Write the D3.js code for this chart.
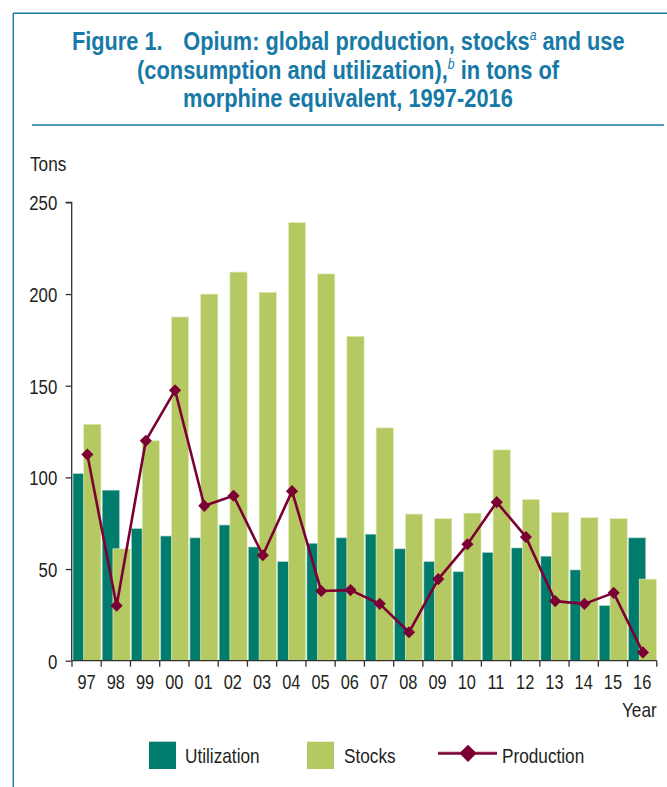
<!DOCTYPE html>
<html>
<head>
<meta charset="utf-8">
<script src="https://cdn.jsdelivr.net/npm/d3@7"></script>
<style>
  html, body { margin: 0; padding: 0; background: #fff; }
  svg { display: block; }
</style>
</head>
<body>
<script>
// ---- Data ----
const years = ["97","98","99","00","01","02","03","04","05","06","07","08","09","10","11","12","13","14","15","16"];
const utilization = [102, 93, 72, 68, 67, 74, 62, 54, 64, 67, 69, 61, 54, 48.5, 59, 61.5, 57, 49.5, 30, 67];
const stocks = [129, 61, 120, 187.5, 200, 212, 201, 239, 211, 177, 127, 80, 77.5, 80.5, 115, 88, 81, 78, 77.5, 44.5];
const production = [112.5, 30, 120, 147.5, 84.5, 90, 57.5, 92.5, 38, 38.5, 31, 15.5, 44.5, 63.5, 86.5, 67.5, 32.5, 31, 37, 4.5];
const yTicks = [0, 50, 100, 150, 200, 250];
const seriesNames = ["Utilization", "Stocks", "Production"];
const titleLines = [
  [{t:"Figure 1."}, {t:"Opium: global production, stocks", dx:24}, {t:"a", sup:true}, {t:" and use"}],
  [{t:"(consumption and utilization),"}, {t:"b", sup:true}, {t:" in tons of"}],
  [{t:"morphine equivalent, 1997-2016"}]
];

// ---- Style ----
const W = 667, H = 787;
const blue = "#1679a6";
const cUtil = "#007c6d", cStock = "#b5c962", cProd = "#7b0034";
const textCol = "#231f20";
const font = "'Liberation Sans', Arial, sans-serif";
const SX = 0.82; // horizontal condensing

const svg = d3.select("body").append("svg").attr("width", W).attr("height", H);

// helper: condensed text placed at (x,y)
function ctext(parent, x, y, str, size, anchor) {
  return parent.append("text")
    .attr("transform", `translate(${x},${y}) scale(${SX},1)`)
    .attr("text-anchor", anchor || "start")
    .attr("font-family", font).attr("font-size", size).attr("fill", textCol)
    .text(str);
}

// frame
svg.append("line").attr("x1", 13.3).attr("x2", W).attr("y1", 13.3).attr("y2", 13.3)
  .attr("stroke", blue).attr("stroke-width", 1.4);
svg.append("line").attr("x1", 13.3).attr("x2", 13.3).attr("y1", 13.3).attr("y2", H)
  .attr("stroke", blue).attr("stroke-width", 1.4);
svg.append("line").attr("x1", 32).attr("x2", 664).attr("y1", 125).attr("y2", 125)
  .attr("stroke", blue).attr("stroke-width", 1.4);

// title
const titleBoxes = [
  {left: 72, width: 553, base: 50},
  {left: 137, width: 423, base: 78.5},
  {left: 183, width: 330, base: 107}
];
titleLines.forEach((parts, i) => {
  const g = svg.append("g");
  const txt = g.append("text").attr("x", 0).attr("y", 0)
    .attr("font-family", font).attr("font-weight", "bold")
    .attr("font-size", 25).attr("fill", blue);
  let raised = false;
  parts.forEach(p => {
    const ts = txt.append("tspan").text(p.t);
    if (p.dx) ts.attr("dx", p.dx);
    if (p.sup) {
      ts.attr("font-size", 14).attr("font-style", "italic").attr("font-weight", "normal").attr("dy", -10);
      raised = true;
    } else if (raised) {
      ts.attr("dy", 10);
      raised = false;
    }
  });
  const bb = txt.node().getBBox();
  const b = titleBoxes[i];
  const sx = b.width / bb.width;
  g.attr("transform", `translate(${b.left - bb.x * sx},${b.base}) scale(${sx},1)`);
});

// ---- Scales ----
const x = d3.scaleBand().domain(years).range([72, 656.8]).padding(0);
const y = d3.scaleLinear().domain([0, 250]).range([660.7, 202.4]);
const bw = x.bandwidth();

// utilization bars
svg.append("g").selectAll("rect").data(years).join("rect")
  .attr("x", (d) => x(d) + bw * 0.035)
  .attr("width", bw * 0.585)
  .attr("y", (d, i) => y(utilization[i]))
  .attr("height", (d, i) => y(0) - y(utilization[i]))
  .attr("fill", cUtil)
  .attr("stroke", "#9fcbbf").attr("stroke-width", 0.6);

// stocks bars
svg.append("g").selectAll("rect").data(years).join("rect")
  .attr("x", (d) => x(d) + bw * 0.40)
  .attr("width", bw * 0.59)
  .attr("y", (d, i) => y(stocks[i]))
  .attr("height", (d, i) => y(0) - y(stocks[i]))
  .attr("fill", cStock)
  .attr("stroke", "#e3ecc0").attr("stroke-width", 0.7);

// axes
const axisCol = "#333";
const yAxis = svg.append("g").attr("transform", "translate(71.7,0)")
  .call(d3.axisLeft(y).tickValues(yTicks).tickSize(6).tickPadding(8).tickFormat(d3.format("d")));
yAxis.select(".domain").attr("d", `M-6,${y(250)}H0V${y(0)}`).attr("stroke", axisCol).attr("stroke-width", 1.3);
yAxis.selectAll(".tick line").attr("stroke", axisCol).attr("stroke-width", 1.3);
yAxis.selectAll(".tick text").attr("font-family", font).attr("font-size", 20.5).attr("fill", textCol)
  .attr("x", 0).attr("dy", "0.36em")
  .attr("transform", `translate(-14.4,0) scale(${SX},1)`);

const xAxis = svg.append("g").attr("transform", `translate(0,${y(0)})`)
  .call(d3.axisBottom(x).tickSize(0).tickPadding(0));
xAxis.select(".domain").attr("d", `M72,0H656.8`).attr("stroke", axisCol).attr("stroke-width", 1.3);
xAxis.selectAll(".tick text").attr("font-family", font).attr("font-size", 20).attr("fill", textCol)
  .attr("y", 0).attr("dy", 28.5)
  .attr("transform", `scale(${SX},1)`);
// band boundary ticks
const boundaries = years.map(d => x(d)).concat([x(years[years.length - 1]) + bw]);
xAxis.append("g").selectAll("line").data(boundaries).join("line")
  .attr("x1", d => d).attr("x2", d => d).attr("y1", 0).attr("y2", 6)
  .attr("stroke", axisCol).attr("stroke-width", 1.3);

// axis titles
ctext(svg, 30, 170.5, "Tons", 21);
ctext(svg, 656.7, 716.7, "Year", 21, "end");

// production line
const px = (d) => x(d) + bw * 0.525;
const line = d3.line().x((d, i) => px(years[i])).y(d => y(d));
svg.append("path").datum(production).attr("d", line)
  .attr("fill", "none").attr("stroke", cProd).attr("stroke-width", 2.6).attr("stroke-linejoin", "round");
const diamond = d3.symbol().type(d3.symbolSquare).size(74);
svg.append("g").selectAll("path").data(production).join("path")
  .attr("d", diamond)
  .attr("transform", (d, i) => `translate(${px(years[i])},${y(d)}) rotate(45)`)
  .attr("fill", cProd);

// legend
const legY = 753.3;
const leg = svg.append("g");
leg.append("rect").attr("x", 149).attr("y", 741.7).attr("width", 27).attr("height", 27.3).attr("fill", cUtil);
ctext(leg, 185, 762.7, seriesNames[0], 21);
leg.append("rect").attr("x", 307).attr("y", 741.7).attr("width", 27).attr("height", 27.3).attr("fill", cStock);
ctext(leg, 344, 762.7, seriesNames[1], 21);
leg.append("line").attr("x1", 438).attr("x2", 497).attr("y1", legY).attr("y2", legY)
  .attr("stroke", "#c99aab").attr("stroke-width", 3.4);
leg.append("line").attr("x1", 438).attr("x2", 497).attr("y1", legY).attr("y2", legY)
  .attr("stroke", cProd).attr("stroke-width", 2.2);
leg.append("path").attr("d", d3.symbol().type(d3.symbolSquare).size(150))
  .attr("transform", `translate(468,${legY}) rotate(45)`).attr("fill", cProd);
ctext(leg, 502, 762.7, seriesNames[2], 21);
</script>
</body>
</html>
